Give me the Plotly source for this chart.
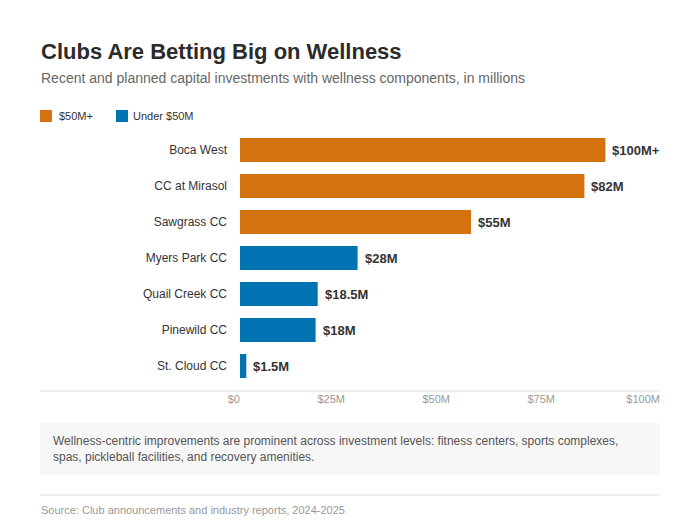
import plotly.graph_objects as go

# ---- data ----
clubs = ["Boca West", "CC at Mirasol", "Sawgrass CC", "Myers Park CC",
         "Quail Creek CC", "Pinewild CC", "St. Cloud CC"]
values = [87, 82, 55, 28, 18.5, 18, 1.5]
value_labels = ["$100M+", "$82M", "$55M", "$28M", "$18.5M", "$18M", "$1.5M"]
groups = ["$50M+", "$50M+", "$50M+", "Under $50M", "Under $50M", "Under $50M", "Under $50M"]
group_names = ["$50M+", "Under $50M"]
group_colors = {"$50M+": "#D4730D", "Under $50M": "#0173B2"}
tick_vals = [0, 25, 50, 75, 100]
tick_text = ["$0", "$25M", "$50M", "$75M", "$100M"]

title = "Clubs Are Betting Big on Wellness"
subtitle = "Recent and planned capital investments with wellness components, in millions"
note = ("Wellness-centric improvements are prominent across investment levels: fitness centers, sports complexes,<br>"
        "spas, pickleball facilities, and recovery amenities.")
source = "Source: Club announcements and industry reports, 2024-2025"

# ---- layout geometry (page pixels; the page body adds an 8px offset) ----
OFF = 8
W, H = 700 - OFF, 520 - OFF
PLOT_L, PLOT_R, PLOT_T, PLOT_B = 240, 660, 132, 391
ML, MR = PLOT_L - OFF, W - (PLOT_R - OFF)
MT, MB = PLOT_T - OFF, H - (PLOT_B - OFF)
PW, PH = PLOT_R - PLOT_L, PLOT_B - PLOT_T
ROW = 36.0
FONT = "Liberation Sans, Arial, Helvetica, sans-serif"


def px_x(px):
    return (px - PLOT_L) / PW


def px_y(py):
    return (PLOT_B - py) / PH


fig = go.Figure()
for g in group_names:
    ys = [c for c, gg in zip(clubs, groups) if gg == g]
    xs = [v for v, gg in zip(values, groups) if gg == g]
    fig.add_trace(go.Bar(
        x=xs, y=ys, orientation="h", name=g,
        marker=dict(color=group_colors[g], line=dict(width=0)),
        hoverinfo="x+y", showlegend=False,
    ))

annotations = []
for c, v, lab in zip(clubs, values, value_labels):
    annotations.append(dict(
        x=v, y=c, xref="x", yref="y", text=lab, showarrow=False,
        xanchor="left", yanchor="middle", xshift=5,
        font=dict(family=FONT, size=13, color="#333333", weight="bold"),
    ))

annotations += [
    dict(x=px_x(39), y=px_y(52), xref="paper", yref="paper", text=f"<b>{title}</b>",
         showarrow=False, xanchor="left", yanchor="middle",
         font=dict(family=FONT, size=22, color="#2b2b2b")),
    dict(x=px_x(39), y=px_y(78), xref="paper", yref="paper", text=subtitle,
         showarrow=False, xanchor="left", yanchor="middle",
         font=dict(family=FONT, size=14, color="#666666")),
    dict(x=px_x(51), y=px_y(449), xref="paper", yref="paper", text=note,
         showarrow=False, xanchor="left", yanchor="middle", align="left",
         font=dict(family=FONT, size=12, color="#555555")),
    dict(x=px_x(39), y=px_y(510), xref="paper", yref="paper", text=source,
         showarrow=False, xanchor="left", yanchor="middle",
         font=dict(family=FONT, size=11, color="#999999")),
]

shapes = [
    dict(type="line", xref="paper", yref="paper", x0=px_x(40), x1=px_x(660),
         y0=px_y(391), y1=px_y(391), line=dict(color="#dddddd", width=1)),
    dict(type="rect", xref="paper", yref="paper", x0=px_x(40), x1=px_x(660),
         y0=px_y(475), y1=px_y(423), fillcolor="#f7f7f7", line=dict(width=0), layer="below"),
    dict(type="line", xref="paper", yref="paper", x0=px_x(40), x1=px_x(660),
         y0=px_y(495), y1=px_y(495), line=dict(color="#dddddd", width=1)),
]

# manual legend (swatch + label)
legend_pos = {"$50M+": (40, 58), "Under $50M": (116, 132)}
for g in group_names:
    sx, tx = legend_pos[g]
    shapes.append(dict(type="rect", xref="paper", yref="paper",
                       x0=px_x(sx), x1=px_x(sx + 12), y0=px_y(122), y1=px_y(110),
                       fillcolor=group_colors[g], line=dict(width=0)))
    annotations.append(dict(x=px_x(tx - 1), y=px_y(116), xref="paper", yref="paper", text=g,
                            showarrow=False, xanchor="left", yanchor="middle",
                            font=dict(family=FONT, size=11, color="#333333")))

fig.update_layout(
    width=W, height=H,
    margin=dict(l=ML, r=MR, t=MT, b=MB, pad=0, autoexpand=False),
    paper_bgcolor="white", plot_bgcolor="white",
    barmode="relative", bargap=1 / 3,
    font=dict(family=FONT, color="#333333"),
    showlegend=False,
    xaxis=dict(range=[0, 100], tickvals=tick_vals, ticktext=tick_text,
               showgrid=False, zeroline=False, showline=False, ticks="",
               ticklabelposition="outside left",
               tickfont=dict(family=FONT, size=11, color="#999999"), fixedrange=True),
    yaxis=dict(categoryorder="array", categoryarray=clubs,
               range=[-0.5 + PH / ROW, -0.5], showgrid=False, zeroline=False,
               showline=False, ticks="", ticklabelstandoff=12,
               tickfont=dict(family=FONT, size=12, color="#333333"), fixedrange=True),
    annotations=annotations,
    shapes=shapes,
)

fig.write_html("out.html")
